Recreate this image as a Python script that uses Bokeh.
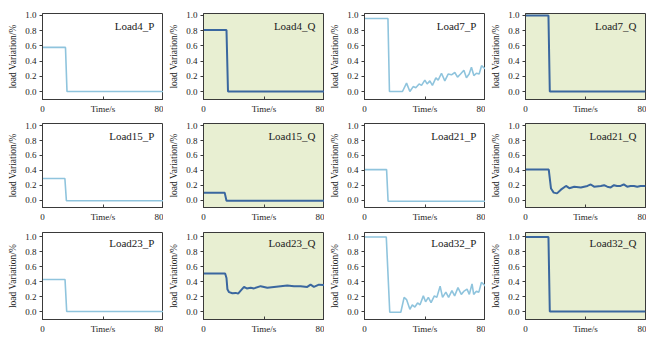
from bokeh.plotting import figure
from bokeh.layouts import gridplot
from bokeh.models import Range1d, FixedTicker, PrintfTickFormatter, Label
from bokeh.embed import file_html
from bokeh.resources import INLINE

# ---------------- data ----------------
names = ["Load4_P", "Load4_Q", "Load7_P", "Load7_Q",
         "Load15_P", "Load15_Q", "Load21_P", "Load21_Q",
         "Load23_P", "Load23_Q", "Load32_P", "Load32_Q"]

load4_p_t = [0, 15.2, 16.2, 80]
load4_p_v = [0.58, 0.58, 0.0, 0.0]
load4_q_t = [0, 15.2, 16.2, 80]
load4_q_v = [0.81, 0.81, 0.0, 0.0]

load7_p_t = [0, 15.5, 16.5, 25.1, 27.8, 30.0, 32.2, 33.9, 36.1, 37.7, 39.9, 41.4, 43.2, 44.9,
             47.2, 48.7, 50.9, 53.1, 55.3, 57.5, 59.7, 61.5, 63.5, 65.7, 67.4, 69.2, 70.7,
             72.3, 74.0, 75.8, 77.4, 79.6, 80]
load7_p_v = [0.96, 0.96, 0.0, 0.0, 0.11, 0.0, 0.065, 0.05, 0.10, 0.08, 0.15, 0.10, 0.14, 0.08,
             0.18, 0.15, 0.24, 0.14, 0.23, 0.22, 0.25, 0.19, 0.23, 0.28, 0.18, 0.23, 0.32,
             0.21, 0.24, 0.23, 0.34, 0.30, 0.31]
load7_q_t = [0, 15.3, 16.2, 80]
load7_q_v = [1.0, 1.0, 0.0, 0.0]

load15_p_t = [0, 14.8, 15.8, 80]
load15_p_v = [0.29, 0.29, -0.01, -0.01]
load15_q_t = [0, 14.0, 15.2, 80]
load15_q_v = [0.10, 0.10, -0.01, -0.01]

load21_p_t = [0, 14.6, 15.6, 80]
load21_p_v = [0.41, 0.41, -0.015, -0.015]
load21_q_t = [0, 15.5, 17.0, 18.8, 21.0, 23.6, 27.0, 29.2, 32.5, 36.9, 41.3, 43.5, 45.7,
              50.2, 52.4, 54.5, 56.8, 59.0, 61.0, 63.4, 65.5, 67.8, 70.0, 72.3, 74.5, 76.7, 80]
load21_q_v = [0.41, 0.41, 0.155, 0.10, 0.09, 0.14, 0.19, 0.16, 0.18, 0.17, 0.19, 0.21, 0.18,
              0.19, 0.20, 0.18, 0.17, 0.20, 0.19, 0.19, 0.21, 0.18, 0.19, 0.19, 0.18, 0.19, 0.19]

load23_p_t = [0, 14.9, 16.0, 80]
load23_p_v = [0.43, 0.43, 0.0, 0.0]
load23_q_t = [0, 14.3, 15.2, 15.8, 16.9, 19.1, 21.3, 22.9, 24.6, 26.8, 28.6, 31.2, 33.4, 37.8,
              42.2, 46.6, 51.0, 55.4, 59.8, 64.2, 68.6, 70.8, 73.0, 76.3, 79.6, 80]
load23_q_v = [0.51, 0.51, 0.45, 0.30, 0.26, 0.245, 0.25, 0.24, 0.28, 0.33, 0.31, 0.32, 0.31, 0.34,
              0.32, 0.33, 0.34, 0.35, 0.34, 0.34, 0.33, 0.36, 0.33, 0.36, 0.355, 0.35]

load32_p_t = [0, 14.4, 16.7, 24.0, 26.2, 27.8, 30.0, 31.6, 33.3, 35.1, 36.7, 38.9, 40.4, 42.2,
              44.0, 46.2, 47.8, 50.0, 51.6, 53.8, 55.6, 57.8, 59.6, 61.8, 64.0, 65.6, 67.8,
              69.3, 71.1, 72.2, 73.8, 75.6, 77.3, 79.6, 80]
load32_p_v = [1.0, 1.0, -0.01, -0.01, 0.19, 0.16, 0.03, 0.09, 0.06, 0.115, 0.09, 0.21, 0.13, 0.19,
              0.12, 0.21, 0.19, 0.34, 0.19, 0.26, 0.19, 0.28, 0.21, 0.32, 0.23, 0.27, 0.30,
              0.23, 0.37, 0.23, 0.27, 0.26, 0.39, 0.35, 0.34]
load32_q_t = [0, 15.3, 16.2, 80]
load32_q_v = [1.0, 1.0, 0.0, 0.0]

series = [(load4_p_t, load4_p_v), (load4_q_t, load4_q_v), (load7_p_t, load7_p_v), (load7_q_t, load7_q_v),
          (load15_p_t, load15_p_v), (load15_q_t, load15_q_v), (load21_p_t, load21_p_v), (load21_q_t, load21_q_v),
          (load23_p_t, load23_p_v), (load23_q_t, load23_q_v), (load32_p_t, load32_p_v), (load32_q_t, load32_q_v)]

y_ticks = [0.0, 0.2, 0.4, 0.6, 0.8, 1.0]
x_ticks = [0, 40, 80]
x_tick_labels = {0: "0", 40: "Time/s", 80: "80"}
y_label = "load Variation/%"

# ---------------- style ----------------
FONT = "Liberation Serif"
P_COLOR = "#8fc4dd"
Q_COLOR = "#3a679f"
GREEN = "#e8efd2"

row_frame_h = [86, 84, 87]
row_top = [13, 3, 4]
row_bottom = [21, 21, 19]
row_yrange = [(-0.105, 1.026), (-0.10, 1.03), (-0.107, 1.06)]
col_left = [42, 40, 40, 40]
col_frame_w = [121, 121, 121, 120]
col_right = [0, 0, 0, 1]

rows = []
for r in range(3):
    row = []
    for c in range(4):
        i = r * 4 + c
        is_q = (c % 2 == 1)
        y0, y1 = row_yrange[r]
        p = figure(frame_width=col_frame_w[c], frame_height=row_frame_h[r],
                   min_border_left=col_left[c], min_border_right=col_right[c],
                   min_border_top=row_top[r], min_border_bottom=row_bottom[r],
                   x_range=Range1d(0, 80), y_range=Range1d(y0, y1),
                   output_backend="svg", toolbar_location=None, tools="")
        p.background_fill_color = GREEN if is_q else "white"
        p.border_fill_color = "white"
        p.outline_line_color = "#3a3a3a"
        p.outline_line_width = 1
        p.grid.visible = False

        t, v = series[i]
        p.line(t, v, line_color=Q_COLOR if is_q else P_COLOR, line_width=2.0 if is_q else 1.6)

        # x axis
        xa = p.xaxis[0]
        xa.ticker = FixedTicker(ticks=x_ticks)
        xa.major_label_overrides = x_tick_labels
        xa.major_tick_in = 3
        xa.major_tick_out = 0
        xa.minor_tick_line_color = None
        xa.major_label_standoff = 4
        xa.axis_line_color = "#3a3a3a"
        xa.major_tick_line_color = "#3a3a3a"
        xa.major_label_text_font = FONT
        xa.major_label_text_font_size = "9px"
        xa.major_label_text_color = "#222222"

        # y axis
        ya = p.yaxis[0]
        ya.ticker = FixedTicker(ticks=y_ticks)
        ya.formatter = PrintfTickFormatter(format="%.1f")
        ya.major_tick_in = 0
        ya.major_tick_out = 3
        ya.minor_tick_line_color = None
        ya.major_label_standoff = 3
        ya.axis_line_color = "#3a3a3a"
        ya.major_tick_line_color = "#3a3a3a"
        ya.major_label_text_font = FONT
        ya.major_label_text_font_size = "9px"
        ya.major_label_text_color = "#222222"
        ya.axis_label = y_label
        ya.axis_label_text_font = FONT
        ya.axis_label_text_font_size = "9.5px"
        ya.axis_label_text_font_style = "normal"
        ya.axis_label_text_color = "#222222"
        ya.axis_label_standoff = 4

        title_y = y1 - (12.0 / row_frame_h[r]) * (y1 - y0) if r < 2 else y1 - (10.0 / row_frame_h[r]) * (y1 - y0)
        p.add_layout(Label(x=74, y=title_y, text=names[i], text_align="right",
                           text_baseline="middle", text_font=FONT,
                           text_font_size="11px", text_color="#222222"))
        row.append(p)
    rows.append(row)

grid = gridplot(rows, toolbar_location=None)
open("out.html", "w").write(file_html(grid, INLINE))
